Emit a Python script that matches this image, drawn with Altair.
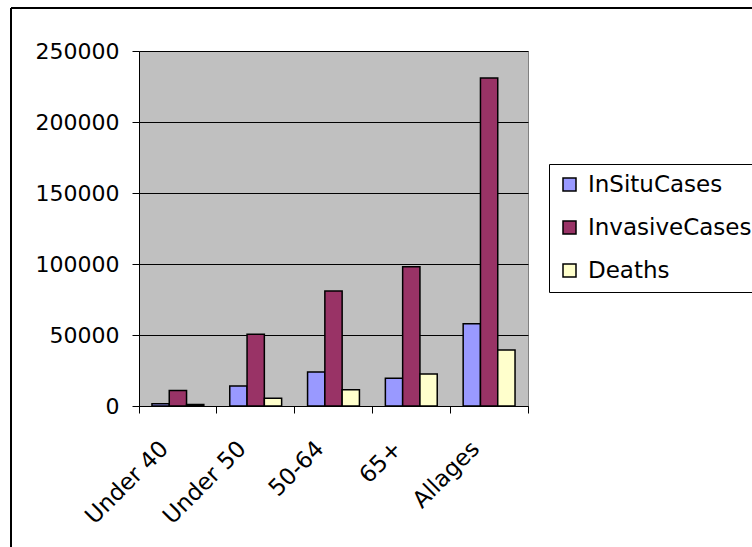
import altair as alt
import pandas as pd

categories = ["Under 40", "Under 50", "50-64", "65+", "Allages"]
series_names = ["InSituCases", "InvasiveCases", "Deaths"]
insitu = [1500, 14000, 24000, 19500, 58000]
invasive = [11000, 50500, 81000, 98000, 231000]
deaths = [1000, 5500, 11500, 22500, 39500]
y_ticks = [0, 50000, 100000, 150000, 200000, 250000]
colors = ["#9999FF", "#993366", "#FFFFCC"]

rows = []
for i, c in enumerate(categories):
    for s, vals in zip(series_names, [insitu, invasive, deaths]):
        rows.append({"Category": c, "Series": s, "Value": vals[i]})
df = pd.DataFrame(rows)

FONT = "DejaVu Sans"
W, H = 389, 355
PL, PT = 139, 51

bars = alt.Chart(df).mark_bar(stroke="black", strokeWidth=1.5).encode(
    x=alt.X("Category:N", sort=categories,
            scale=alt.Scale(paddingInner=0, paddingOuter=0),
            axis=alt.Axis(title=None, labelAngle=-45, bandPosition=1, tickExtra=True,
                          labelOffset=-21, labelAlign="right", labelBaseline="top",
                          labelPadding=24, tickSize=7, tickColor="black", domainColor="black",
                          labelFont=FONT, labelFontSize=23, labelColor="black", grid=False)),
    xOffset=alt.XOffset("Series:N", sort=series_names,
                        scale=alt.Scale(paddingInner=0, paddingOuter=0.75)),
    y=alt.Y("Value:Q", scale=alt.Scale(domain=[0, 250000], nice=False),
            axis=alt.Axis(title=None, values=y_ticks, format="d", grid=True,
                          gridColor="black", gridOpacity=1, gridWidth=1,
                          domainColor="black", tickColor="black", tickSize=7,
                          labelPadding=13, labelFont=FONT, labelFontSize=22,
                          labelColor="black")),
    color=alt.Color("Series:N", sort=series_names,
                    scale=alt.Scale(domain=series_names, range=colors),
                    legend=alt.Legend(orient="none", legendX=410, legendY=113, title=None,
                                      symbolType="square", symbolSize=169,
                                      symbolStrokeColor="black", symbolStrokeWidth=1.5,
                                      labelFont=FONT, labelFontSize=23, labelColor="black",
                                      labelLimit=400,
                                      padding=9, rowPadding=19, labelOffset=7,
                                      strokeColor="black", fillColor="white")),
)

top_border = alt.Chart(pd.DataFrame({"a": [0]})).mark_rule(color="black", strokeWidth=2).encode(
    x=alt.value(11 - PL), x2=alt.value(800), y=alt.value(8 - PT))
left_border = alt.Chart(pd.DataFrame({"a": [0]})).mark_rule(color="black", strokeWidth=2).encode(
    x=alt.value(11 - PL), y=alt.value(8 - PT), y2=alt.value(600))

chart = alt.layer(bars, top_border, left_border).properties(
    width=W, height=H,
    autosize=alt.AutoSizeParams(type="none"),
    padding={"left": PL, "top": PT, "right": 752 - PL - W, "bottom": 547 - PT - H},
    background="white",
).configure_view(fill="#C0C0C0", stroke="#808080", strokeWidth=1)

chart.save("out.html", embed_options={"renderer": "svg", "actions": False})
